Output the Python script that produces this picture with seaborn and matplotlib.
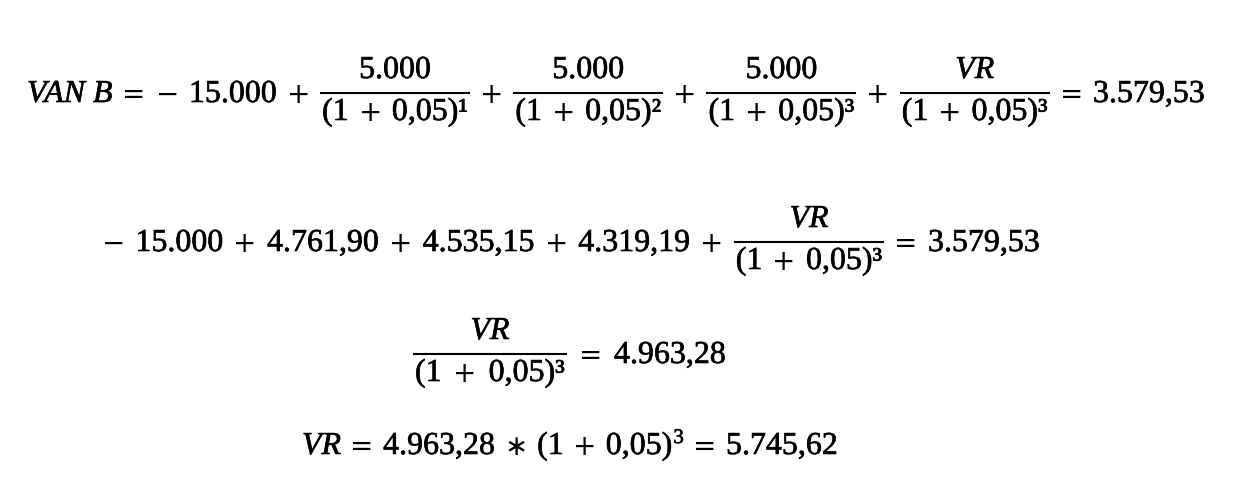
import matplotlib
matplotlib.use("Agg")
import matplotlib.pyplot as plt
import matplotlib.patheffects as pe
import seaborn as sns

# ---------------- data ----------------
van_label = "VAN B"
vr_label = "VR"
investment = "15.000"
cash_flows = ["5.000", "5.000", "5.000"]
rate = "0,05"
exponents = ["¹", "²", "³"]
discounted = ["4.761,90", "4.535,15", "4.319,19"]
van_value = "3.579,53"
vr_present = "4.963,28"
vr_value = "5.745,62"

# ---------------- style ----------------
sns.set_theme(style="white")
plt.rcParams['font.family'] = ['Liberation Serif', 'DejaVu Serif']
FS = 23            # main font size (pt)
OP_FS = 20         # operator size
SUP_FS = 15        # raised exponent size
INK = "#000000"
OP_FAMILY = ['DejaVu Sans', 'DejaVu Serif']
BOLDEN = [pe.withStroke(linewidth=0.45, foreground=INK)]

fig = plt.figure(figsize=(12.56, 5.02), dpi=100)
ax = fig.add_axes([0, 0, 1, 1])
ax.set_xlim(0, 1256)
ax.set_ylim(502, 0)
ax.axis('off')
renderer = fig.canvas.get_renderer()

_wcache = {}


def txt_kw(kind, it=False):
    if kind == 'op':
        return dict(fontsize=OP_FS, family=OP_FAMILY)
    if kind == 'sup':
        return dict(fontsize=SUP_FS)
    return dict(fontsize=FS, style='italic' if it else 'normal')


def tw(s, kind, it=False):
    key = (s, kind, it)
    if key not in _wcache:
        t = ax.text(0, 0, s, **txt_kw(kind, it))
        _wcache[key] = t.get_window_extent(renderer).width
        t.remove()
    return _wcache[key]


def put(x, y, s, kind, it=False):
    effects = [] if kind == 'op' else BOLDEN
    ax.text(x, y, s, ha='left', va='baseline', color=INK,
            path_effects=effects, **txt_kw(kind, it))


def T(s, it=False):
    return ('txt', s, it)


def OP(s):
    return ('op', s)


def PRE(s):
    return ('pre', s)


def SUP(s):
    return ('sup', s)


def FR(num, den):
    return ('frac', num, den)


PAD = 2
BAR_ABOVE_BASE = 9
NUM_SHIFT = 15
DEN_SHIFT = 27


def width(pieces, gap):
    w = 0.0
    for p in pieces:
        if p[0] == 'txt':
            w += tw(p[1], 'txt', p[2])
        elif p[0] == 'op':
            w += tw(p[1], 'op') + 2 * gap
        elif p[0] == 'pre':
            w += tw(p[1], 'op') + gap
        elif p[0] == 'sup':
            w += tw(p[1], 'sup') + 1
        elif p[0] == 'frac':
            w += max(width(p[1], gap), width(p[2], gap)) + 2 * PAD
    return w


def draw(pieces, x, yb, gap):
    for p in pieces:
        if p[0] == 'txt':
            put(x, yb, p[1], 'txt', p[2])
            x += tw(p[1], 'txt', p[2])
        elif p[0] in ('op', 'pre'):
            if p[0] == 'op':
                x += gap
            put(x, yb, p[1], 'op')
            x += tw(p[1], 'op') + gap
        elif p[0] == 'sup':
            x += 1
            put(x, yb - 11, p[1], 'sup')
            x += tw(p[1], 'sup')
        elif p[0] == 'frac':
            wn = width(p[1], gap)
            wd = width(p[2], gap)
            wf = max(wn, wd) + 2 * PAD
            bar_y = yb - BAR_ABOVE_BASE
            ax.hlines(bar_y, x, x + wf, colors=INK, linewidth=1.5)
            draw(p[1], x + (wf - wn) / 2, bar_y - NUM_SHIFT, gap)
            draw(p[2], x + (wf - wd) / 2, bar_y + DEN_SHIFT, gap)
            x += wf
    return x


def fit_gap(pieces, target):
    w0 = width(pieces, 0)
    w10 = width(pieces, 10)
    g = 10 * (target - w0) / (w10 - w0)
    return max(3.0, min(20.0, g))


def den(k):
    return [T("(1"), OP("+"), T(rate + ")" + exponents[k])]


# ---------------- equations ----------------
line1 = [T(van_label, True), OP("="), PRE("−"), T(investment), OP("+")]
for k in range(3):
    line1 += [FR([T(cash_flows[k])], den(k)), OP("+")]
line1 += [FR([T(vr_label, True)], den(2)), OP("="), T(van_value)]

line2 = [PRE("−"), T(investment)]
for v in discounted:
    line2 += [OP("+"), T(v)]
line2 += [OP("+"), FR([T(vr_label, True)], den(2)), OP("="), T(van_value)]

line3 = [FR([T(vr_label, True)], den(2)), OP("="), T(vr_present)]

line4 = [T(vr_label, True), OP("="), T(vr_present), OP("∗"), T("(1"), OP("+"),
         T(rate + ")"), SUP("3"), OP("="), T(vr_value)]

# (pieces, left x, right x, baseline y)
layout = [
    (line1, 27, 1205, 103),
    (line2, 102, 1040, 252),
    (line3, 413, 726, 364),
    (line4, 302, 838, 455),
]

for pieces, x0, x1, yb in layout:
    g = fit_gap(pieces, x1 - x0)
    draw(pieces, x0, yb, g)

fig.savefig("out.png", dpi=100, facecolor="white")
